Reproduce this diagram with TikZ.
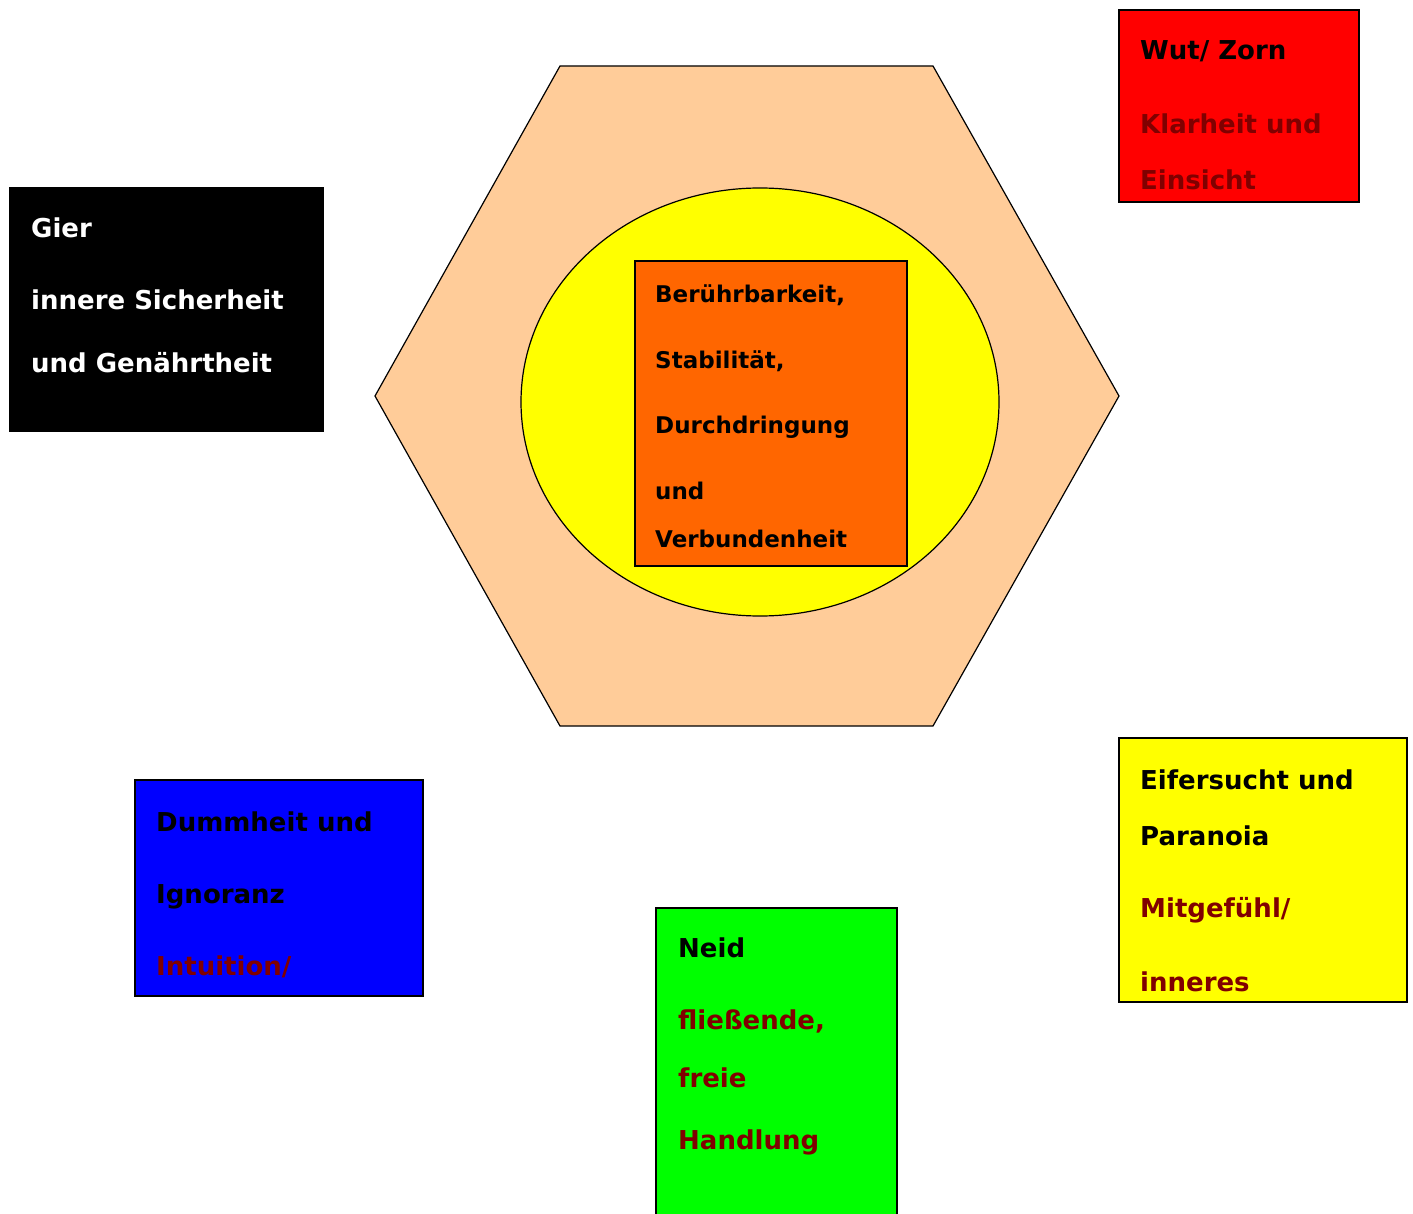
\documentclass[tikz,border=0pt]{standalone}
\usepackage{fontspec}
\setmainfont{DejaVu Sans}
\definecolor{pfirsich}{HTML}{FFCC99}
\definecolor{kernorange}{HTML}{FF6600}
\definecolor{dunkelrot}{HTML}{800000}
\definecolor{gelb}{HTML}{FFFF00}
\tikzset{
  kasten/.style={draw=black,line width=1.2pt},
  txt/.style={anchor=base west,inner sep=0pt,font=\fontsize{26}{30}\selectfont\bfseries},
  kerntxt/.style={anchor=base west,inner sep=0pt,font=\fontsize{23}{26}\selectfont\bfseries},
}
\begin{document}
\begin{tikzpicture}[x=1pt,y=-1pt]
  \useasboundingbox (0,0) rectangle (1413,1214);
  % Sechseck
  \filldraw[kasten,fill=pfirsich] (560,66) -- (933,66) -- (1119,396) -- (933,726) -- (560,726) -- (375,396) -- cycle;
  % Ellipse
  \filldraw[kasten,fill=gelb] (760,402) ellipse [x radius=239,y radius=214];
  % Kern
  \filldraw[kasten,fill=kernorange] (635,261) rectangle (907,566);
  \node[kerntxt] (beruehr) at (655,303) {Berührbarkeit,};
  \node[kerntxt] (stabil) at (655,369) {Stabilität,};
  \node[kerntxt] (durch) at (655,433) {Durchdringung};
  \node[kerntxt] (und) at (655,499) {und};
  \node[kerntxt] (verbund) at (655,547) {Verbundenheit};
  % Wut
  \filldraw[kasten,fill=red] (1119,10) rectangle (1359,202);
  \node[txt] (wut) at (1140,60) {Wut/ Zorn};
  \node[txt,text=dunkelrot] (klar) at (1140,134) {Klarheit und};
  \node[txt,text=dunkelrot] (einsicht) at (1140,190) {Einsicht};
  % Gier
  \filldraw[kasten,fill=black] (10,188) rectangle (323,431);
  \node[txt,text=white] (gier) at (31,238) {Gier};
  \node[txt,text=white] (sicher) at (31,310) {innere Sicherheit};
  \node[txt,text=white] (genaehrt) at (31,373) {und Genährtheit};
  % Dummheit
  \filldraw[kasten,fill=blue] (135,780) rectangle (423,996);
  \node[txt] (dumm) at (156,831) {Dummheit und};
  \node[txt] (ignor) at (156,903) {Ignoranz};
  \node[txt,text=dunkelrot] (intu) at (156,975) {Intuition/};
  % Neid
  \filldraw[kasten,fill=green] (656,908) rectangle (897,1230);
  \node[txt] (neid) at (678,957) {Neid};
  \node[txt,text=dunkelrot] (fliess) at (678,1029) {fließende,};
  \node[txt,text=dunkelrot] (frei) at (678,1087) {freie};
  \node[txt,text=dunkelrot] (handl) at (678,1149) {Handlung};
  % Eifersucht
  \filldraw[kasten,fill=gelb] (1119,738) rectangle (1407,1002);
  \node[txt] (eifer) at (1140,789) {Eifersucht und};
  \node[txt] (para) at (1140,845) {Paranoia};
  \node[txt,text=dunkelrot] (mitgef) at (1140,917) {Mitgefühl/};
  \node[txt,text=dunkelrot] (inner) at (1140,991) {inneres};
\end{tikzpicture}
\end{document}
